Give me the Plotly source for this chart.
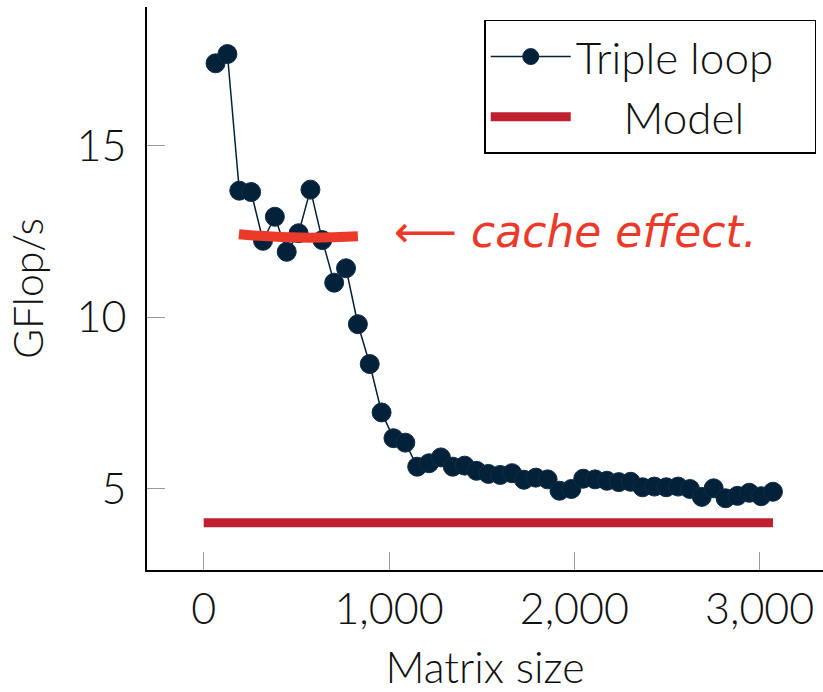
import plotly.graph_objects as go

# ---- data ----
matrix_size = [64, 128, 192, 256, 320, 384, 448, 512, 576, 640, 704, 768,
               832, 896, 960, 1024, 1088, 1152, 1216, 1280, 1344, 1408, 1472, 1536,
               1600, 1664, 1728, 1792, 1856, 1920, 1984, 2048, 2112, 2176, 2240, 2304,
               2368, 2432, 2496, 2560, 2624, 2688, 2752, 2816, 2880, 2944, 3008, 3072]
gflops = [17.40, 17.67, 13.69, 13.65, 12.23, 12.93, 11.91, 12.45, 13.72, 12.25, 11.01, 11.43,
          9.80, 8.64, 7.23, 6.48, 6.35, 5.65, 5.75, 5.92, 5.65, 5.68, 5.53, 5.44,
          5.41, 5.46, 5.27, 5.33, 5.28, 4.95, 5.00, 5.30, 5.28, 5.24, 5.20, 5.21,
          5.05, 5.07, 5.05, 5.07, 5.00, 4.77, 5.02, 4.73, 4.80, 4.89, 4.79, 4.92]
model_x = [0, 3072]
model_y = [4.02, 4.02]

x_ticks = [0, 1000, 2000, 3000]
y_ticks = [5, 10, 15]

NAVY = "#03223A"
RED = "#C01F30"
HAND = "#EC3A2A"
FONT = "Lato"
FW = 300
FS = 43

XR = [-306, 3342]
YR = [2.64, 19.04]

fig = go.Figure()
fig.add_trace(go.Scatter(
    x=model_x, y=model_y, mode="lines", name="\u00a0\u00a0\u00a0\u00a0Model",
    line=dict(color=RED, width=9), legendrank=2))
fig.add_trace(go.Scatter(
    x=matrix_size, y=gflops, mode="lines+markers", name="Triple loop\u00a0\u00a0\u00a0",
    line=dict(color=NAVY, width=1.5),
    marker=dict(size=19, color=NAVY, line=dict(color="#0E2D48", width=1)),
    legendrank=1))

# hand-drawn style annotation
fig.add_shape(type="path", xref="x", yref="y",
              path="M 190,12.42 Q 480,12.26 832,12.36",
              line=dict(color=HAND, width=10))
fig.add_annotation(x=2004, y=12.5, xref="x", yref="y",
                   text="<i>\u27f5 cache effect.</i>", showarrow=False,
                   font=dict(family="DejaVu Sans", size=44, color=HAND))

tick_common = dict(ticks="inside", ticklen=18, tickwidth=1, tickcolor="#9A9A9A",
                   showgrid=False, zeroline=False)

fig.update_layout(
    width=823, height=692,
    margin=dict(l=147, r=0, t=7, b=122),
    paper_bgcolor="white", plot_bgcolor="white",
    font=dict(family=FONT, size=FS, color="#111111", weight=FW),
    showlegend=True,
    legend=dict(x=0.99, y=0.977, xanchor="right", yanchor="top",
                bgcolor="white", bordercolor="black", borderwidth=1.5,
                font=dict(family=FONT, size=FS + 1, color="#111111", weight=FW),
                itemwidth=80, traceorder="normal"),
    xaxis=dict(range=XR, tickvals=x_ticks, tickformat=",d",
               showline=True, linecolor="black", linewidth=2,
               title=dict(text="Matrix size", font=dict(size=FS, weight=FW), standoff=22),
               **tick_common),
    yaxis=dict(range=YR, tickvals=y_ticks,
               showline=True, linecolor="black", linewidth=2,
               ticklabelstandoff=10,
               title=dict(text="GFlop/s", font=dict(size=41, weight=FW), standoff=20),
               **tick_common),
    xaxis2=dict(range=XR, tickvals=x_ticks, overlaying="x", side="top",
                anchor="y", showline=True, linecolor="black", linewidth=2,
                showticklabels=False, **tick_common),
    yaxis2=dict(range=YR, tickvals=y_ticks, overlaying="y", side="right",
                anchor="x", showline=False, showticklabels=False,
                ticks="inside", ticklen=13, tickwidth=1, tickcolor="#9A9A9A",
                showgrid=False, zeroline=False),
)

fig.write_html("out.html", config={"displayModeBar": False},
               post_script="document.body.style.margin='0';")
